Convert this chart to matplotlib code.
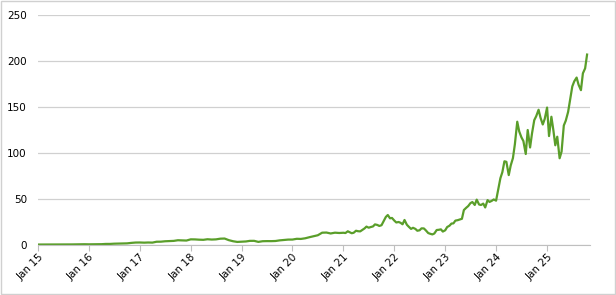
import matplotlib
matplotlib.use('Agg')
import matplotlib.pyplot as plt
import matplotlib.dates as mdates
import numpy as np
import pandas as pd

# monthly closes 2015-2020 (split adjusted)
early_values = [
    0.50, 0.55, 0.53, 0.55, 0.55, 0.50, 0.50, 0.56, 0.62, 0.71, 0.80, 0.82,
    0.73, 0.78, 0.89, 0.89, 1.16, 1.17, 1.43, 1.53, 1.71, 1.78, 2.30, 2.67,
    2.73, 2.55, 2.72, 2.60, 3.55, 3.61, 4.06, 4.23, 4.47, 5.17, 5.00, 4.84,
    6.14, 6.07, 5.79, 5.62, 6.25, 5.92, 6.12, 6.86, 7.02, 5.27, 4.08, 3.34,
    3.59, 3.85, 4.49, 4.52, 3.38, 4.11, 4.22, 4.19, 4.35, 5.03, 5.42, 5.88,
    5.91, 6.74, 6.59, 7.28, 8.45, 9.50, 10.61, 13.38, 13.53, 12.53, 13.39, 13.05,
]
# semi-monthly closes 2021 - Oct 2025
late_values = [
    13.3, 13.0, 14.9, 13.8, 12.8, 13.3, 15.5, 15.0, 14.8, 16.2, 18.0, 20.0,
    18.8, 19.5, 20.2, 22.4, 21.8, 20.7, 21.5, 25.5, 30.5, 32.6, 29.0, 29.4,
    26.5, 24.5, 25.0, 24.1, 22.5, 27.2, 22.0, 19.8, 17.5, 18.7, 17.5, 15.5,
    16.0, 18.1, 18.0, 15.9, 13.0, 12.2, 11.5, 12.5, 16.3, 16.5, 17.0, 14.6,
    16.0, 19.5, 21.0, 23.3, 23.5, 26.5, 27.0, 27.7, 28.5, 38.0, 40.5, 42.3,
    45.5, 46.7, 43.5, 49.3, 44.0, 43.5, 45.0, 40.8, 48.8, 46.8, 48.0, 49.5,
    48.2, 59.0, 72.6, 79.1, 91.0, 90.4, 76.0, 86.4, 94.5, 109.6, 134.0, 123.5,
    117.0, 113.0, 98.9, 125.0, 106.0, 121.4, 135.7, 140.0, 147.0, 138.3, 131.0, 137.0,
    149.4, 118.4, 139.4, 124.9, 108.4, 117.7, 94.3, 101.5, 129.9, 135.1, 144.7, 157.8,
    172.4, 177.9, 182.0, 174.2, 168.3, 186.6, 192.0, 207.0,
]

early_dates = pd.date_range('2015-01-01', periods=len(early_values), freq='MS')
late_dates = pd.date_range('2021-01-01', periods=len(late_values), freq='SMS')
dates = early_dates.append(late_dates)
values = np.array(early_values + late_values)

fig = plt.figure(figsize=(6.16, 2.95), dpi=100)
ax = fig.add_axes([38 / 616, 50 / 295, 552 / 616, 230 / 295])

ax.plot(dates, values, '-', color='#5a9e2a', linewidth=1.6)

ax.set_ylim(0, 250)
ax.set_yticks(range(0, 251, 50))
ax.set_xlim(pd.Timestamp('2015-01-01'), pd.Timestamp('2025-11-05'))
ax.xaxis.set_major_locator(mdates.YearLocator())
ax.xaxis.set_major_formatter(mdates.DateFormatter('Jan %y'))

ax.grid(axis='y', color='#d0d0d0', linewidth=0.9)
ax.set_axisbelow(True)
for side in ['top', 'right', 'left']:
    ax.spines[side].set_visible(False)
ax.spines['bottom'].set_color('#bfbfbf')
ax.tick_params(axis='y', length=0, labelsize=7.5, pad=8)
ax.tick_params(axis='x', length=4, color='#bfbfbf', labelsize=7.5, pad=1)
plt.setp(ax.get_xticklabels(), rotation=45, ha='right', rotation_mode='anchor')

fig.patches.append(plt.Rectangle((0.001, 0.002), 0.997, 0.995, transform=fig.transFigure,
                                 fill=False, edgecolor='#d0d0d0', linewidth=1))

fig.savefig('out.png', dpi=100)
